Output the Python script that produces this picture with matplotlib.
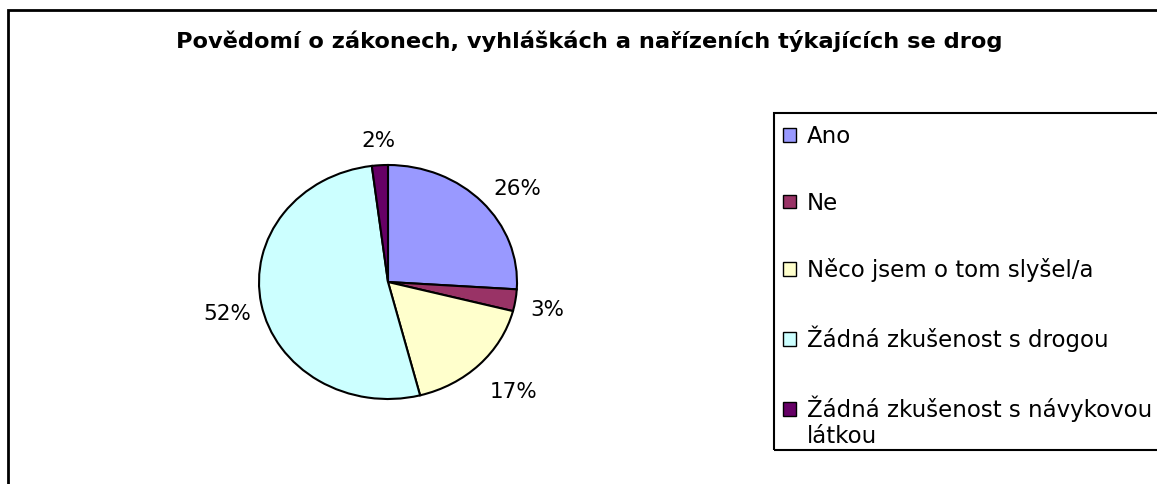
import numpy as np
import matplotlib
matplotlib.use("Agg")
import matplotlib.pyplot as plt
from matplotlib.patches import Rectangle

title = "Povědomí o zákonech, vyhláškách a nařízeních týkajících se drog"
labels = ["Ano", "Ne", "Něco jsem o tom slyšel/a", "Žádná zkušenost s drogou",
          "Žádná zkušenost s návykovou", "látkou"]
values = [26, 3, 17, 52, 2]
colors = ["#9999FF", "#993366", "#FFFFCC", "#CCFFFF", "#660066"]

W, H = 1157, 484
fig = plt.figure(figsize=(W / 100, H / 100), dpi=100)
plt.rcParams['font.family'] = ['DejaVu Sans']

# outer chart frame (runs off right and bottom edges)
fig.add_artist(Rectangle((8 / W, -0.2), 1.5, 1 - 10 / H + 0.2, transform=fig.transFigure,
                         fill=False, edgecolor='black', linewidth=2))

fig.text(589 / W, 1 - 41 / H, title, ha='center', va='center',
         fontsize=16.2, fontweight='bold')

# pie area (slightly elliptical as in the original)
cx, cy, rx, ry = 388, 282, 129, 117
ax = fig.add_axes([(cx - rx) / W, (H - cy - ry) / H, 2 * rx / W, 2 * ry / H])
wedges, _ = ax.pie(values, colors=colors, startangle=90, counterclock=False,
                   wedgeprops=dict(edgecolor='black', linewidth=1.5))
ax.set_aspect('auto')
ax.set_xlim(-1, 1)
ax.set_ylim(-1, 1)
ax.axis('off')

for w, v in zip(wedges, values):
    th = np.deg2rad((w.theta1 + w.theta2) / 2)
    c, s = np.cos(th), np.sin(th)
    ha = 'left' if c > 0.3 else ('right' if c < -0.3 else 'center')
    va = 'bottom' if s > 0.3 else ('top' if s < -0.3 else 'center')
    dy = -0.06 if s < 0.9 else 0.0
    dx = 0.04 if c < -0.3 else 0.0
    ax.text(1.12 * c + dx, 1.12 * s + dy, f"{v}%", ha=ha, va=va, fontsize=15.5, clip_on=False)

# legend frame (runs off right edge)
fig.add_artist(Rectangle((774 / W, 1 - 450 / H), 0.5, (450 - 113) / H,
                         transform=fig.transFigure, fill=False,
                         edgecolor='black', linewidth=1.5))
leg = fig.legend(wedges, labels[:5], loc='upper left', bbox_to_anchor=(783 / W, 1 - 125 / H),
                 frameon=False, fontsize=16.5, handlelength=0.55, handleheight=0.55,
                 handletextpad=0.5, labelspacing=1.9, borderpad=0, borderaxespad=0)
for h in leg.legend_handles:
    h.set_linewidth(1)

# second line of the last legend label
fig.canvas.draw()
bb = leg.get_texts()[-1].get_window_extent()
fig.text(bb.x0 / W, (bb.y0 - 26) / H, labels[5], fontsize=16.5, ha='left', va='bottom')

fig.savefig("out.png", dpi=100)
